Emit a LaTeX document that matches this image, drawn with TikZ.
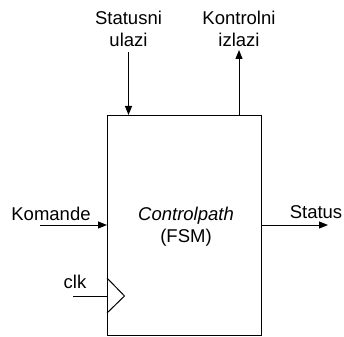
\documentclass[tikz,border=0pt]{standalone}
\usepackage{fontspec}
\setmainfont{Liberation Sans}
\usetikzlibrary{arrows.meta}
\begin{document}
\begin{tikzpicture}[x=1pt,y=-1pt,
  lbl/.style={inner sep=0pt,anchor=base,font=\fontsize{18.5}{22}\selectfont},
  wire/.style={line width=1pt},
  arr/.style={wire,-{Triangle[length=9pt,width=7pt]}}]
\useasboundingbox (0,0) rectangle (344,336);
\node[draw,line width=1pt,minimum width=154pt,minimum height=220pt,inner sep=0pt,anchor=north west] (box) at (107,115) {};
\node[lbl] (st1) at (128.5,25) {Statusni};
\node[lbl] (st2) at (128.5,47) {ulazi};
\node[lbl] (ko1) at (239,25) {Kontrolni};
\node[lbl] (ko2) at (239,47) {izlazi};
\node[lbl] (kom) at (51,220) {Komande};
\node[lbl] (sta) at (316,218) {Status};
\node[lbl] (cp) at (186,220) {\itshape Controlpath};
\node[lbl] (fsm) at (186,242) {(FSM)};
\node[lbl] (clk) at (75,288) {clk};
\coordinate (sin) at (128.5,52);
\coordinate (sbox) at (128.5,115);
\coordinate (kbox) at (239,115);
\coordinate (kout) at (239,50);
\coordinate (komin) at (40,225);
\coordinate (komb) at (107,225);
\coordinate (stb) at (261,225);
\coordinate (stout) at (328,225);
\coordinate (clkin) at (73,296);
\coordinate (clkb) at (107,296);
\draw[arr] (sin) -- (sbox);
\draw[arr] (kbox) -- (kout);
\draw[arr] (komin) -- (komb);
\draw[arr] (stb) -- (stout);
\draw[wire] (clkin) -- (clkb);
\draw[wire] (107,278) -- (124.5,296) -- (107,313);
\end{tikzpicture}
\end{document}
